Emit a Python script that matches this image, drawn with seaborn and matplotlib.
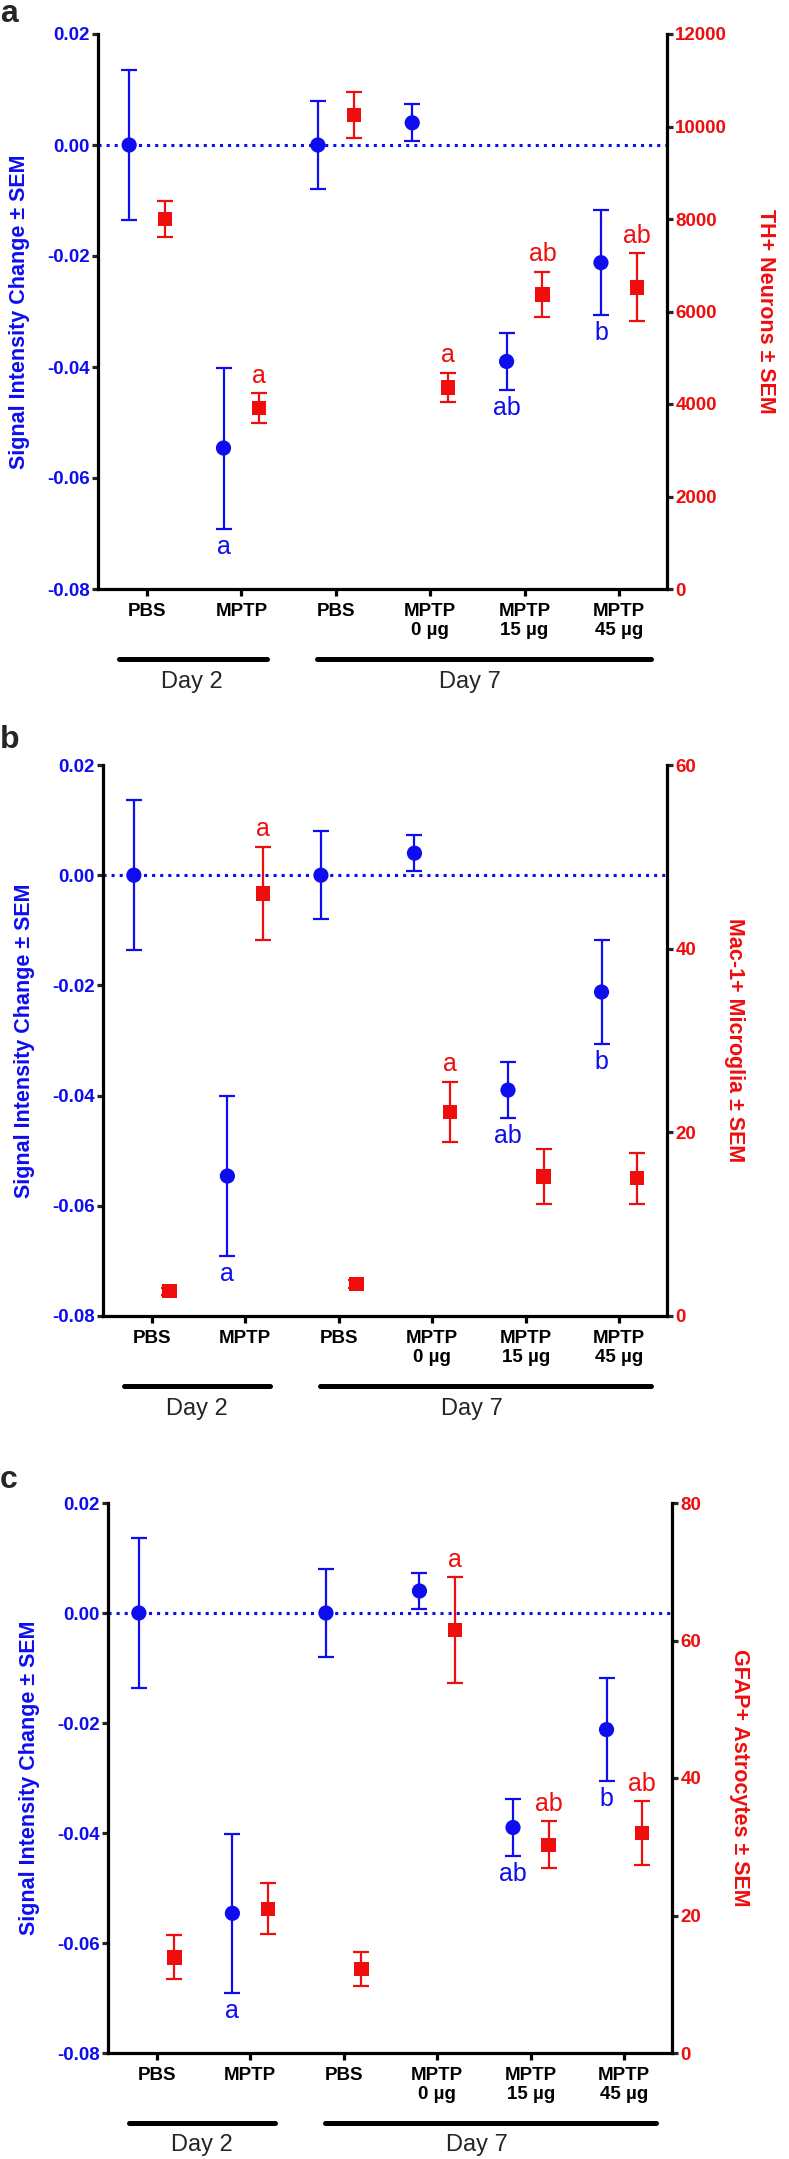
import numpy as np
import matplotlib
matplotlib.use("Agg")
import matplotlib.pyplot as plt
import matplotlib.transforms as mtransforms
import seaborn as sns

# ------------------------------------------------------------
# Data
# ------------------------------------------------------------
groups = ["PBS", "MPTP", "PBS", "MPTP\n0 µg", "MPTP\n15 µg", "MPTP\n45 µg"]

# MRI signal intensity change (same in every panel)
mri_mean = [0.0, -0.0546, 0.0, 0.0040, -0.0390, -0.0212]
mri_sem = [0.0136, 0.0145, 0.0080, 0.0033, 0.0051, 0.0094]
mri_letters = ["", "a", "", "", "ab", "b"]

# a: TH+ neurons
th_mean = [8000, 3920, 10250, 4355, 6370, 6520]
th_sem = [380, 320, 500, 320, 490, 735]
th_letters = ["", "a", "", "a", "ab", "ab"]

# b: Mac-1+ microglia
mac_mean = [2.7, 46.0, 3.5, 22.2, 15.2, 15.0]
mac_sem = [0.4, 5.1, 0.4, 3.3, 3.0, 2.75]
mac_letters = ["", "a", "", "a", "", ""]

# c: GFAP+ astrocytes
gfap_mean = [13.9, 21.0, 12.2, 61.5, 30.3, 32.0]
gfap_sem = [3.2, 3.7, 2.45, 7.7, 3.4, 4.65]
gfap_letters = ["", "", "", "a", "ab", "ab"]

day_names = ["Day 2", "Day 7"]

# ------------------------------------------------------------
# Style
# ------------------------------------------------------------
sns.set_style("ticks")
plt.rcParams["font.family"] = ["Liberation Sans", "DejaVu Sans"]
plt.rcParams["axes.unicode_minus"] = False

BLUE = "#0d0df0"
RED = "#f00d0d"
W, H = 789, 2159

fig = plt.figure(figsize=(W / 100, H / 100), dpi=100)


def rect_px(left, right, top, bottom):
    return [left / W, 1 - bottom / H, (right - left) / W, (bottom - top) / H]


def draw_panel(rect, letter, letter_base, r_mean, r_sem, r_letters, r_max, r_step, r_label):
    ax = fig.add_axes(rect)
    ax2 = ax.twinx()
    x = np.arange(len(groups))
    xb = x - 0.19
    xr = x + 0.19

    # zero reference line
    ax.axhline(0, color=BLUE, lw=2.2, ls=":", zorder=1)

    # left series (blue circles)
    ax.errorbar(xb, mri_mean, yerr=mri_sem, fmt="none", ecolor=BLUE,
                elinewidth=1.6, capsize=5.5, capthick=1.6, zorder=2)
    sns.scatterplot(x=xb, y=mri_mean, ax=ax, color=BLUE, marker="o",
                    s=120, edgecolor="none", zorder=3)
    for xi, m, s, t in zip(xb, mri_mean, mri_sem, mri_letters):
        if t:
            ax.annotate(t, xy=(xi, m - s), xytext=(0, -13), textcoords="offset points",
                        ha="center", va="center", color=BLUE, fontsize=18)

    # right series (red squares)
    ax2.errorbar(xr, r_mean, yerr=r_sem, fmt="none", ecolor=RED,
                 elinewidth=1.6, capsize=5.5, capthick=1.6, zorder=2)
    sns.scatterplot(x=xr, y=r_mean, ax=ax2, color=RED, marker="s",
                    s=105, edgecolor="none", zorder=3)
    for xi, m, s, t in zip(xr, r_mean, r_sem, r_letters):
        if t:
            ax2.annotate(t, xy=(xi, m + s), xytext=(0, 12.5), textcoords="offset points",
                         ha="center", va="center", color=RED, fontsize=18)

    # axes
    ax.set_xlim(-0.52, 5.51)
    ax.set_ylim(-0.08, 0.02)
    ax.set_yticks(np.arange(-0.08, 0.021, 0.02))
    ax.set_yticklabels([f"{v:.2f}" for v in np.arange(-0.08, 0.021, 0.02)])
    ax2.set_ylim(0, r_max)
    ax2.set_yticks(np.arange(0, r_max + 1, r_step))
    ax.set_xticks(x)
    ax.set_xticklabels(groups, fontsize=13.5, fontweight="bold", linespacing=1.2)

    for a in (ax, ax2):
        a.set_facecolor("none")
        for sp in a.spines.values():
            sp.set_linewidth(2.3)
            sp.set_color("black")
        a.spines["top"].set_visible(False)
    ax.spines["right"].set_visible(False)
    ax2.spines["left"].set_visible(False)
    ax2.spines["bottom"].set_visible(False)

    ax.tick_params(axis="x", length=5, width=2.3, pad=5, colors="black")
    ax.tick_params(axis="y", length=4.5, width=2.3, pad=1.5, labelcolor=BLUE, labelsize=13.5)
    ax2.tick_params(axis="y", length=4.5, width=2.3, pad=1.5, labelcolor=RED, labelsize=13.5)
    for lab in ax.get_yticklabels() + ax2.get_yticklabels():
        lab.set_fontweight("bold")

    ax.set_ylabel("Signal Intensity Change ± SEM", color=BLUE, fontsize=15.5,
                  fontweight="bold", labelpad=12)
    ax2.set_ylabel(r_label, color=RED, fontsize=15.5, fontweight="bold",
                   rotation=270, va="bottom", labelpad=20)

    # day brackets under the axis
    trans = mtransforms.blended_transform_factory(ax.transData, ax.transAxes)
    spans = [(-0.3, 1.27), (1.8, 5.34)]
    label_x = [0.48, 3.42]
    for (x0, x1), lx, name in zip(spans, label_x, day_names):
        ax.plot([x0, x1], [-0.127, -0.127], transform=trans, color="black",
                lw=3.6, solid_capstyle="round", clip_on=False)
        ax.text(lx, -0.168, name, transform=trans, ha="center", va="center",
                fontsize=17)

    fig.text(0.0, 1 - letter_base / H, letter, fontsize=23, fontweight="bold",
             ha="left", va="baseline")


draw_panel(rect_px(98, 667, 34, 589), "a", 22, th_mean, th_sem, th_letters,
           12000, 2000, "TH+ Neurons ± SEM")
draw_panel(rect_px(103, 667, 765, 1316), "b", 748, mac_mean, mac_sem, mac_letters,
           60, 20, "Mac-1+ Microglia ± SEM")
draw_panel(rect_px(108, 672, 1503, 2053), "c", 1488, gfap_mean, gfap_sem, gfap_letters,
           80, 20, "GFAP+ Astrocytes ± SEM")

fig.savefig("out.png", dpi=100)
